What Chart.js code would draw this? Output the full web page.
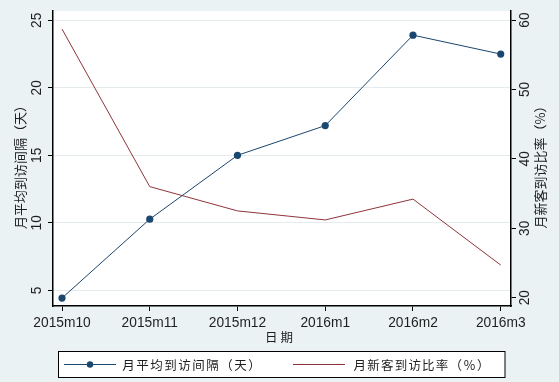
<!DOCTYPE html>
<html><head><meta charset="utf-8">
<script src="https://cdn.jsdelivr.net/npm/chart.js@4.4.1/dist/chart.umd.min.js"></script>
<style>html,body{margin:0;padding:0;background:#eaf2f3;overflow:hidden}#c{display:block}</style>
</head><body>
<canvas id="c" width="559" height="382"></canvas>
<script>
const categories = ['2015m10','2015m11','2015m12','2016m1','2016m2','2016m3'];
const avgInterval = [4.43, 10.27, 15.0, 17.2, 23.9, 22.5];
const newVisitRate = [58.7, 36.0, 32.5, 31.2, 34.2, 24.7];
const leftTicks = [5, 10, 15, 20, 25];
const rightTicks = [20, 30, 40, 50, 60];
const seriesNames = ['月平均到访间隔（天）', '月新客到访比率（%）'];
const xTitle = '日期';

const BLUE = '#1a476f', RED = '#90353b', BG = '#eaf2f3', TXT = '#1e1e1e';

function drawChars(ctx, text, x, y, adv) {
  [...text].forEach((ch, i) => ctx.fillText(ch, x + i * adv + adv / 2, y));
}

const deco = {
  id: 'deco',
  beforeDraw(chart) {
    const { ctx, chartArea: a, width, height } = chart;
    ctx.save();
    ctx.fillStyle = BG; ctx.fillRect(0, 0, width, height);
    ctx.fillStyle = '#fff'; ctx.fillRect(a.left, a.top, a.right - a.left, a.bottom - a.top);
    ctx.restore();
  },
  afterDraw(chart) {
    const { ctx, chartArea: a, scales } = chart;
    ctx.save();
    ctx.fillStyle = TXT;
    ctx.textAlign = 'center'; ctx.textBaseline = 'middle';
    ctx.font = '13.75px "Liberation Sans", Arial, sans-serif';
    leftTicks.forEach(v => {
      const y = scales.y.getPixelForValue(v);
      ctx.save(); ctx.translate(37, y); ctx.rotate(-Math.PI / 2); ctx.fillText(String(v), 0, 0); ctx.restore();
    });
    rightTicks.forEach(v => {
      const y = scales.y1.getPixelForValue(v);
      ctx.save(); ctx.translate(525.5, y); ctx.rotate(-Math.PI / 2); ctx.fillText(String(v), 0, 0); ctx.restore();
    });
    categories.forEach((c, i) => {
      ctx.fillText(c, scales.x.getPixelForValue(i), 323.5);
    });
    // axis titles
    const midY = 164;
    ctx.font = '13px "Noto Sans CJK SC", sans-serif';
    ctx.save(); ctx.translate(20, midY); ctx.rotate(-Math.PI / 2); ctx.fillText(seriesNames[0], 0, 0); ctx.restore();
    ctx.save(); ctx.translate(540, midY); ctx.rotate(-Math.PI / 2); ctx.fillText(seriesNames[1], 0, 0); ctx.restore();
    ctx.font = '12.5px "Noto Sans CJK SC", sans-serif';
    drawChars(ctx, xTitle, 263.5, 337, 15.5);
    // legend
    ctx.fillStyle = '#fff';
    ctx.fillRect(58.5, 351.5, 446.5, 26);
    ctx.strokeStyle = '#000'; ctx.lineWidth = 1;
    ctx.strokeRect(58.5, 351.5, 446.5, 26);
    const ds = chart.data.datasets;
    ctx.strokeStyle = ds[0].borderColor; ctx.beginPath(); ctx.moveTo(64, 364.5); ctx.lineTo(116, 364.5); ctx.stroke();
    ctx.fillStyle = ds[0].borderColor; ctx.beginPath(); ctx.arc(90, 364.5, 3.2, 0, Math.PI * 2); ctx.fill();
    ctx.strokeStyle = ds[1].borderColor; ctx.beginPath(); ctx.moveTo(293, 364.5); ctx.lineTo(345, 364.5); ctx.stroke();
    ctx.fillStyle = TXT;
    ctx.font = '12.5px "Noto Sans CJK SC", sans-serif';
    drawChars(ctx, ds[0].label, 121.5, 365, 14);
    drawChars(ctx, ds[1].label, 353, 365, 13.7);
    ctx.restore();
  }
};

new Chart(document.getElementById('c'), {
  type: 'line',
  data: {
    datasets: [
      { label: seriesNames[0], data: avgInterval.map((v, i) => ({ x: i, y: v })), yAxisID: 'y',
        borderColor: BLUE, backgroundColor: BLUE, borderWidth: 1, pointRadius: 3.6,
        pointBackgroundColor: BLUE, pointBorderWidth: 0, tension: 0 },
      { label: seriesNames[1], data: newVisitRate.map((v, i) => ({ x: i, y: v })), yAxisID: 'y1',
        borderColor: RED, backgroundColor: RED, borderWidth: 1, pointRadius: 0, tension: 0 }
    ]
  },
  options: {
    responsive: false, animation: false, devicePixelRatio: 1,
    layout: { padding: { left: 48, right: 43, top: 11, bottom: 71 } },
    plugins: { legend: { display: false }, tooltip: { enabled: false } },
    scales: {
      x: { type: 'linear', min: -0.1026, max: 5.117,
        afterBuildTicks: s => { s.ticks = categories.map((c, i) => ({ value: i })); },
        ticks: { display: false },
        grid: { drawOnChartArea: false, drawTicks: true, tickLength: 5, tickColor: '#000', tickWidth: 1 },
        border: { display: true, color: '#000', width: 1.5 } },
      y: { type: 'linear', position: 'left', min: 3.84, max: 25.69,
        afterBuildTicks: s => { s.ticks = leftTicks.map(v => ({ value: v })); },
        ticks: { display: false },
        grid: { drawOnChartArea: true, color: '#e4ecee', lineWidth: 1, drawTicks: true, tickLength: 5, tickColor: '#000', tickWidth: 1 },
        border: { display: true, color: '#000', width: 1.5 } },
      y1: { type: 'linear', position: 'right', min: 18.8, max: 61.3,
        afterBuildTicks: s => { s.ticks = rightTicks.map(v => ({ value: v })); },
        ticks: { display: false },
        grid: { drawOnChartArea: false, drawTicks: true, tickLength: 5, tickColor: '#000', tickWidth: 1 },
        border: { display: true, color: '#000', width: 1.5 } }
    }
  },
  plugins: [deco]
});
</script>
</body></html>
